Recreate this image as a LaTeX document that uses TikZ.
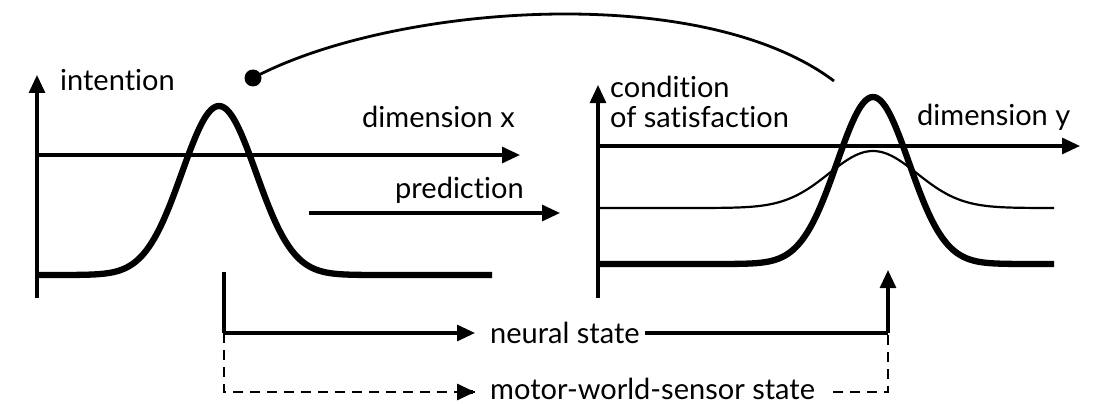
\documentclass[tikz,border=0pt]{standalone}
\usepackage{fontspec}
\setmainfont{Lato}[Ligatures={NoCommon,NoDiscretionary,NoRare}]
\usetikzlibrary{arrows.meta}
\begin{document}
\begin{tikzpicture}[x=1pt,y=-1pt,
  lbl/.style={anchor=base west,inner sep=0pt,font=\fontsize{29}{32}\selectfont},
  thinln/.style={line width=3.1pt},
  thickln/.style={line width=6.3pt,line join=round},
  tip/.style={-{Triangle[length=18pt,width=16pt]}},
  dsh/.style={line width=2.9pt,dash pattern=on 10pt off 7pt}]
\useasboundingbox (0,0) rectangle (1093,404);
% coordinates
\coordinate (lax0) at (37,298);
\coordinate (lax1) at (37,75);
\coordinate (lh0) at (37,155);
\coordinate (lh1) at (520,155);
\coordinate (pr0) at (309,213);
\coordinate (pr1) at (560,213);
\coordinate (rax0) at (598,298);
\coordinate (rax1) at (598,85);
\coordinate (rh0) at (598,146);
\coordinate (rh1) at (1080,146);
\coordinate (tk0) at (224,272);
\coordinate (tk1) at (224,333);
\coordinate (nsa) at (475,333);
\coordinate (nsb) at (645,333);
\coordinate (nsc) at (888,333);
\coordinate (up) at (888,270);
\coordinate (md0) at (224,392);
\coordinate (mda) at (475,392);
\coordinate (mdb) at (833,392);
\coordinate (md1) at (888,392);
\coordinate (arcA) at (253,78);
\coordinate (arcB) at (834,81);
% texts
\node[lbl] (intention) at (60,91) {intention};
\node[lbl] (dimx) at (362,127) {dimension x};
\node[lbl] (pred) at (395,198) {prediction};
\node[lbl] (cond) at (610,97) {condition};
\node[lbl] (sat) at (610,127) {of satisfaction};
\node[lbl] (dimy) at (917,125) {dimension y};
\node[lbl] (neural) at (490,343) {neural state};
\node[lbl] (mws) at (490,399) {motor-world-sensor state};
% axes
\draw[thinln,tip] (lax0) -- (lax1);
\draw[thinln,tip] (lh0) -- (lh1);
\draw[thinln,tip] (pr0) -- (pr1);
\draw[thinln,tip] (rax0) -- (rax1);
\draw[thinln,tip] (rh0) -- (rh1);
% left thick gaussian
\draw[thickln] (37,275) -- (71,275) -- plot[smooth,samples=60,domain=-4:4] ({219+37*\x},{275-169*exp(-\x*\x/2)}) -- (492,275);
% right thin gaussian
\draw[line width=2.2pt] (598,208) -- (697,208) -- plot[smooth,samples=60,domain=-4:4] ({873+44*\x},{208-57*exp(-\x*\x/2)}) -- (1054,208);
% right thick gaussian
\draw[thickln] (598,264) -- (729,264) -- plot[smooth,samples=60,domain=-4:4] ({873+36*\x},{264-167*exp(-\x*\x/2)}) -- (1054,264);
% arc
\fill (arcA) circle (8.5);
\draw[line width=2.8pt] (arcA) .. controls (390,5) and (700,-20) .. (arcB);
% neural state
\draw[thinln] (tk0) -- (tk1);
\draw[thinln,tip] (tk1) -- (nsa);
\draw[thinln] (nsb) -- (nsc);
\draw[thinln,tip] (nsc) -- (up);
% motor-world-sensor state
\draw[dsh] (tk1) -- (md0) -- (mda);
\draw[thinln,tip] ([xshift=-2pt]mda) -- (mda);
\draw[dsh] (mdb) -- (md1) -- (nsc);
\end{tikzpicture}
\end{document}
